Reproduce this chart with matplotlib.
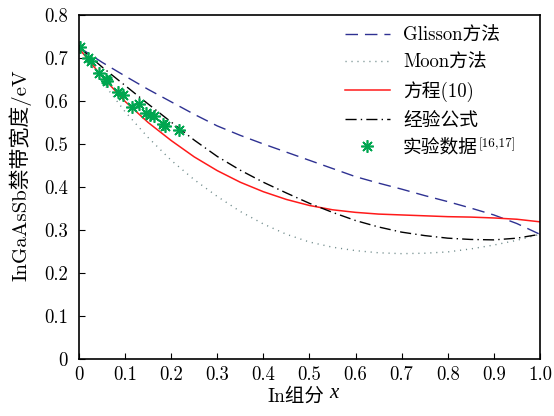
import matplotlib
matplotlib.use("Agg")
import matplotlib.pyplot as plt

plt.rcParams['font.family'] = ['cmr10', 'Noto Sans CJK SC']
plt.rcParams['axes.formatter.use_mathtext'] = True

# values
x_curve = [0, 0.05, 0.1, 0.15, 0.2, 0.25, 0.3, 0.35, 0.4, 0.45, 0.5,
           0.55, 0.6, 0.65, 0.7, 0.75, 0.8, 0.85, 0.9, 0.95, 1.0]
glisson = [0.725, 0.690, 0.658, 0.627, 0.598, 0.569, 0.542, 0.520, 0.500, 0.481, 0.462,
           0.443, 0.424, 0.409, 0.395, 0.380, 0.366, 0.351, 0.335, 0.315, 0.290]
moon = [0.725, 0.645, 0.575, 0.515, 0.462, 0.417, 0.378, 0.343, 0.314, 0.290, 0.272,
        0.260, 0.252, 0.247, 0.245, 0.246, 0.249, 0.256, 0.265, 0.276, 0.290]
eq10 = [0.722, 0.657, 0.599, 0.550, 0.508, 0.470, 0.438, 0.411, 0.389, 0.371, 0.357,
        0.347, 0.341, 0.337, 0.335, 0.333, 0.331, 0.330, 0.328, 0.325, 0.319]
empirical = [0.725, 0.679, 0.636, 0.593, 0.551, 0.509, 0.471, 0.439, 0.411, 0.386, 0.362,
             0.341, 0.322, 0.307, 0.295, 0.287, 0.281, 0.278, 0.277, 0.281, 0.290]

x_exp = [0.002, 0.020, 0.025, 0.044, 0.059, 0.061, 0.084, 0.096, 0.114, 0.131,
         0.145, 0.154, 0.163, 0.182, 0.187, 0.218]
y_exp = [0.726, 0.699, 0.694, 0.666, 0.650, 0.647, 0.622, 0.613, 0.587, 0.593,
         0.571, 0.567, 0.565, 0.546, 0.542, 0.533]

xticks = [0, 0.1, 0.2, 0.3, 0.4, 0.5, 0.6, 0.7, 0.8, 0.9, 1.0]
xticklabels = ['0', '0.1', '0.2', '0.3', '0.4', '0.5', '0.6', '0.7', '0.8', '0.9', '1.0']
yticks = [0, 0.1, 0.2, 0.3, 0.4, 0.5, 0.6, 0.7, 0.8]
yticklabels = ['0', '0.1', '0.2', '0.3', '0.4', '0.5', '0.6', '0.7', '0.8']

fig = plt.figure(figsize=(5.54, 4.16), dpi=100)
ax = fig.add_axes([0.1426, 0.137, 0.832, 0.827])

ax.plot(x_curve, glisson, color='#2e3192', lw=1.0, dashes=(9, 5), label='Glisson方法')
ax.plot(x_curve, moon, color='#6e8a8a', lw=1.0, dashes=(0.8, 3.5), label='Moon方法')
ax.plot(x_curve, eq10, color='#ff1a1a', lw=1.1, label='方程(10)')
ax.plot(x_curve, empirical, color='black', lw=1.0, dashes=(8, 3, 1, 3), label='经验公式')
ax.plot(x_exp, y_exp, ls='none', marker=(8, 2, 0), ms=9, mew=1.2, color='#00a650',
        label='实验数据')

ax.set_xlim(0, 1.0)
ax.set_ylim(0, 0.8)
ax.set_xticks(xticks)
ax.set_xticklabels(xticklabels)
ax.set_yticks(yticks)
ax.set_yticklabels(yticklabels)
ax.tick_params(direction='in', labelsize=13.5, length=4, pad=5)
ax.tick_params(axis='y', pad=8)
for s in ax.spines.values():
    s.set_linewidth(1.2)

ax.set_xlabel('In组分', fontsize=14)
ax.xaxis.set_label_coords(0.47, -0.085)
ax.set_ylabel('InGaAsSb禁带宽度/eV', fontsize=15)
ax.yaxis.set_label_coords(-0.104, 0.535)

leg = ax.legend(loc='upper right', bbox_to_anchor=(0.95, 1.015), frameon=False, fontsize=13.5,
                handlelength=2.4, labelspacing=0.5, handletextpad=0.7)

# italic x after the x label, and the reference superscript after the last legend entry
fig.canvas.draw()
r = fig.canvas.get_renderer()
W, H = fig.bbox.width, fig.bbox.height
bb = ax.xaxis.label.get_window_extent(r)
fig.text((bb.x1 + 5) / W, (bb.y0 + 3) / H, 'x', family='Liberation Serif', style='italic',
         fontsize=15, va='bottom', ha='left')
tb = leg.get_texts()[4].get_window_extent(r)
fig.text(tb.x1 / W, (tb.y1 + 1) / H, '[16,17]', fontsize=9.5, va='top', ha='left')

fig.savefig('out.png', dpi=100)
